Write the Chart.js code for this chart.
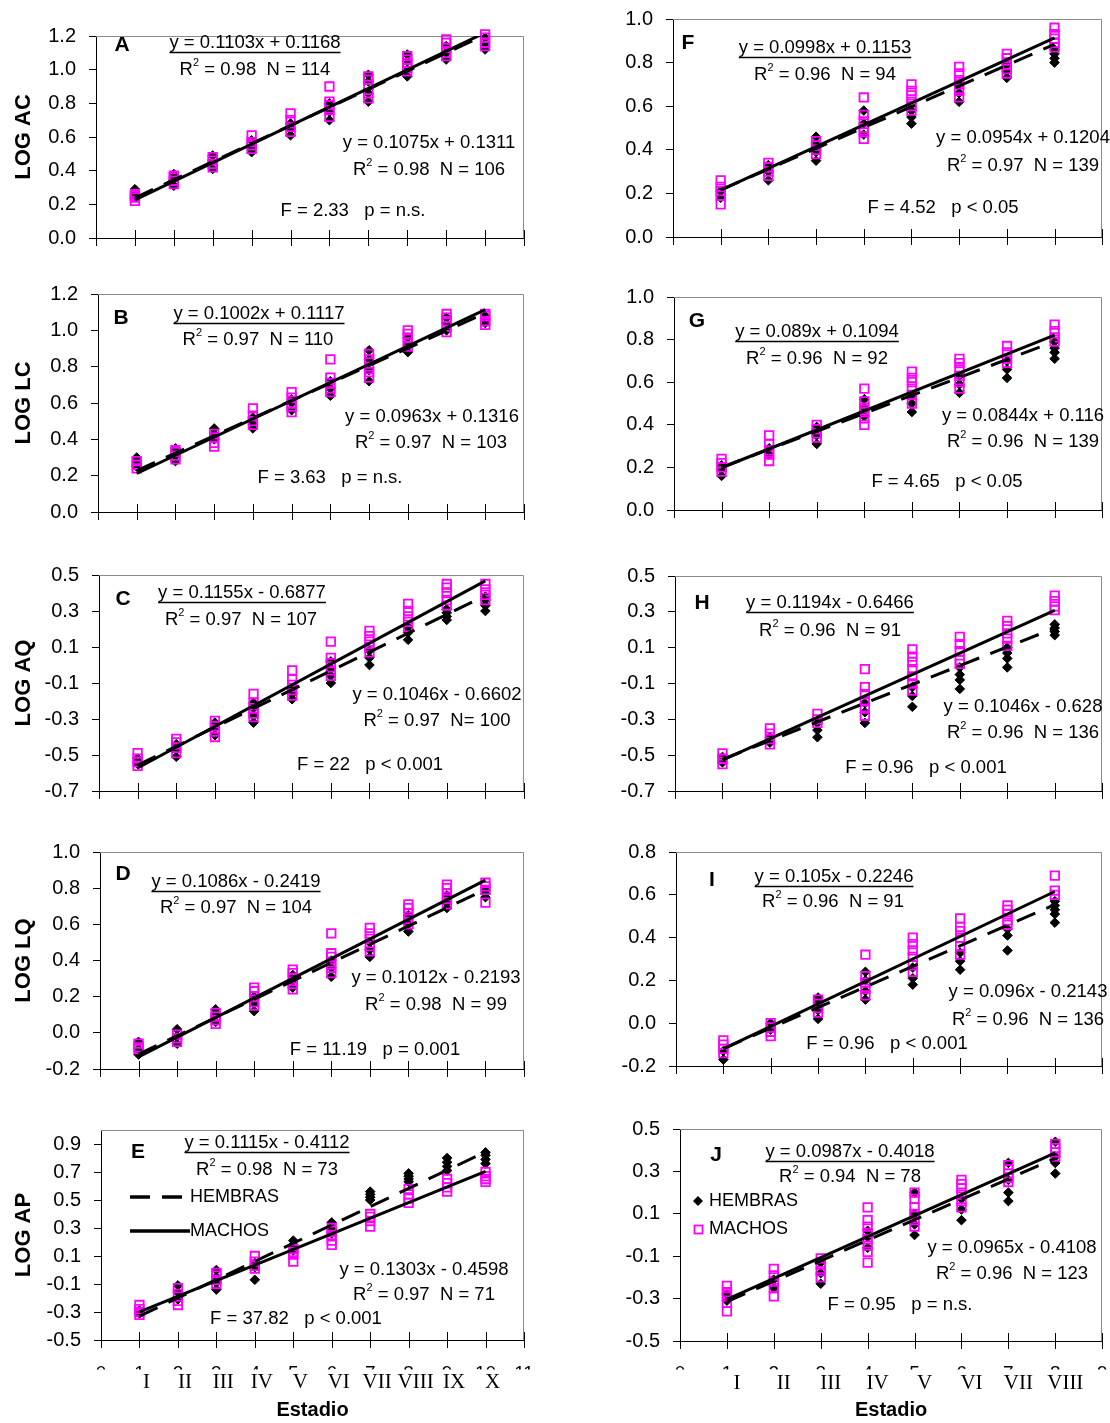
<!DOCTYPE html>
<html>
<head>
<meta charset="utf-8">
<script src="https://cdn.jsdelivr.net/npm/chart.js@4.4.0/dist/chart.umd.min.js"></script>
<style>
  body { margin: 0; background: #fff; }
  #wrap { position: relative; width: 1110px; height: 1423px; overflow: hidden; background: #fff; }
  #wrap canvas { position: absolute; }
</style>
</head>
<body>
<div id="wrap"></div>
<script>
const estadiosIzq = ['I', 'II', 'III', 'IV', 'V', 'VI', 'VII', 'VIII', 'IX', 'X'];
const estadiosDer = ['I', 'II', 'III', 'IV', 'V', 'VI', 'VII', 'VIII'];

// y tick labels for each panel
const ticks0a12 = [0, 0.2, 0.4, 0.6, 0.8, 1.0, 1.2];
const ticks0a10 = [0, 0.2, 0.4, 0.6, 0.8, 1.0];
const ticksM07 = [-0.7, -0.5, -0.3, -0.1, 0.1, 0.3, 0.5];
const ticksM02a10 = [-0.2, 0, 0.2, 0.4, 0.6, 0.8, 1.0];
const ticksM05a09 = [-0.5, -0.3, -0.1, 0.1, 0.3, 0.5, 0.7, 0.9];
const ticksM02a08 = [-0.2, 0, 0.2, 0.4, 0.6, 0.8];
const ticksM05a05 = [-0.5, -0.3, -0.1, 0.1, 0.3, 0.5];

// values per stage (one inner list per estadio)
const acMachos = [[0.22, 0.24, 0.25, 0.26], [0.32, 0.34, 0.36, 0.37], [0.42, 0.44, 0.46, 0.48], [0.53, 0.55, 0.57, 0.61], [0.63, 0.66, 0.70, 0.74], [0.72, 0.76, 0.79, 0.81, 0.90], [0.83, 0.86, 0.91, 0.94, 0.96], [0.99, 1.01, 1.04, 1.06, 1.08], [1.08, 1.10, 1.13, 1.16, 1.18], [1.14, 1.16, 1.19, 1.21]];
const acHembras = [[0.25, 0.27, 0.29], [0.31, 0.35, 0.38], [0.41, 0.45, 0.49], [0.51, 0.54, 0.58], [0.61, 0.65, 0.68], [0.70, 0.75, 0.80], [0.81, 0.86, 0.93, 0.97], [0.96, 1.00, 1.05, 1.09], [1.06, 1.10, 1.14], [1.12, 1.15, 1.19]];

const lcMachos = [[0.24, 0.26, 0.28], [0.29, 0.31, 0.33, 0.34], [0.36, 0.38, 0.41, 0.43], [0.48, 0.50, 0.53, 0.57], [0.55, 0.58, 0.60, 0.63, 0.66], [0.66, 0.68, 0.71, 0.74, 0.84], [0.74, 0.77, 0.80, 0.84, 0.87], [0.91, 0.93, 0.96, 0.98, 1.00], [0.99, 1.02, 1.05, 1.07, 1.09], [1.03, 1.05, 1.08, 1.09]];
const lcHembras = [[0.25, 0.28, 0.30], [0.28, 0.31, 0.35], [0.40, 0.43, 0.46], [0.46, 0.49, 0.52], [0.56, 0.60, 0.62], [0.64, 0.68, 0.72], [0.72, 0.78, 0.84, 0.89], [0.88, 0.92, 0.96], [1.00, 1.04, 1.07], [1.04, 1.06, 1.08]];

const aqMachos = [[-0.56, -0.54, -0.52, -0.49], [-0.49, -0.46, -0.43, -0.41], [-0.40, -0.37, -0.34, -0.31], [-0.29, -0.27, -0.24, -0.21, -0.16], [-0.17, -0.14, -0.11, -0.08, -0.03], [-0.06, -0.03, 0.01, 0.04, 0.13], [0.07, 0.10, 0.13, 0.16, 0.19], [0.21, 0.24, 0.27, 0.30, 0.34], [0.33, 0.36, 0.40, 0.43, 0.45], [0.36, 0.39, 0.42, 0.45]];
const aqHembras = [[-0.55, -0.52], [-0.51, -0.47, -0.44], [-0.39, -0.35, -0.32], [-0.32, -0.28, -0.24, -0.21], [-0.19, -0.16, -0.13], [-0.10, -0.06, -0.02, 0.02], [0.00, 0.04, 0.08], [0.14, 0.18, 0.21], [0.25, 0.27, 0.29, 0.31], [0.30, 0.33, 0.36, 0.38]];

const lqMachos = [[-0.09, -0.08, -0.06], [-0.05, -0.03, -0.01], [0.05, 0.07, 0.09, 0.11], [0.15, 0.17, 0.20, 0.23, 0.25], [0.24, 0.27, 0.30, 0.33, 0.35], [0.33, 0.36, 0.39, 0.42, 0.44, 0.55], [0.45, 0.48, 0.52, 0.55, 0.58], [0.60, 0.63, 0.66, 0.69, 0.71], [0.71, 0.74, 0.77, 0.80, 0.82], [0.72, 0.79, 0.81, 0.83]];
const lqHembras = [[-0.12, -0.09, -0.05], [-0.06, -0.02, 0.02], [0.06, 0.10, 0.13], [0.12, 0.16, 0.20], [0.25, 0.29, 0.32], [0.31, 0.36, 0.40], [0.42, 0.46, 0.50], [0.56, 0.60, 0.65], [0.69, 0.72, 0.76], [0.75, 0.77, 0.79]];

const apMachos = [[-0.32, -0.30, -0.28, -0.25], [-0.25, -0.22, -0.17, -0.13], [-0.10, -0.07, -0.04, -0.02], [0.01, 0.03, 0.06, 0.10], [0.06, 0.11, 0.13, 0.15], [0.18, 0.21, 0.25, 0.28, 0.30], [0.31, 0.35, 0.38, 0.40], [0.48, 0.51, 0.54, 0.58], [0.56, 0.59, 0.62, 0.65], [0.63, 0.65, 0.67, 0.70]];
const apHembras = [[-0.31, -0.29], [-0.21, -0.16, -0.11], [-0.14, -0.09, -0.05, 0.00], [-0.07, 0.02, 0.05], [0.14, 0.18, 0.21], [0.26, 0.30, 0.34], [0.50, 0.52, 0.54, 0.56], [0.63, 0.65, 0.67, 0.69], [0.71, 0.74, 0.77, 0.80], [0.76, 0.79, 0.82, 0.84]];

const fMachos = [[0.15, 0.19, 0.21, 0.23, 0.26], [0.28, 0.30, 0.32, 0.34], [0.38, 0.40, 0.42, 0.44], [0.45, 0.48, 0.50, 0.53, 0.56, 0.64], [0.58, 0.60, 0.62, 0.65, 0.67, 0.70], [0.64, 0.67, 0.70, 0.72, 0.75, 0.78], [0.75, 0.77, 0.79, 0.82, 0.84], [0.87, 0.89, 0.91, 0.93, 0.96]];
const fHembras = [[0.18, 0.21], [0.26, 0.30, 0.33], [0.35, 0.39, 0.43, 0.46], [0.47, 0.52, 0.58], [0.52, 0.55, 0.58], [0.62, 0.66, 0.70], [0.73, 0.76, 0.79], [0.80, 0.82, 0.84, 0.86]];

const gMachos = [[0.18, 0.20, 0.22, 0.24], [0.23, 0.26, 0.28, 0.31, 0.35], [0.34, 0.36, 0.38, 0.40], [0.40, 0.43, 0.46, 0.48, 0.51, 0.57], [0.50, 0.54, 0.57, 0.60, 0.62, 0.65], [0.57, 0.60, 0.63, 0.66, 0.69, 0.71], [0.69, 0.71, 0.74, 0.77], [0.79, 0.81, 0.84, 0.87]];
const gHembras = [[0.16, 0.19, 0.21], [0.26, 0.29], [0.31, 0.35, 0.39], [0.44, 0.48, 0.52], [0.46, 0.50, 0.54], [0.55, 0.59, 0.63], [0.62, 0.66, 0.70], [0.71, 0.74, 0.76, 0.79]];

const hMachos = [[-0.55, -0.52, -0.49], [-0.44, -0.41, -0.38, -0.35], [-0.32, -0.30, -0.27], [-0.28, -0.24, -0.20, -0.16, -0.12, -0.02], [-0.14, -0.10, -0.06, -0.02, 0.02, 0.05, 0.09], [0.01, 0.03, 0.08, 0.12, 0.16], [0.11, 0.15, 0.18, 0.22, 0.25], [0.31, 0.33, 0.36, 0.39]];
const hHembras = [[-0.54, -0.51], [-0.43, -0.40], [-0.40, -0.36, -0.32], [-0.32, -0.26, -0.21], [-0.23, -0.17, -0.12], [-0.13, -0.08, -0.05, -0.01], [-0.01, 0.04, 0.07, 0.10], [0.17, 0.19, 0.21, 0.23]];

const iMachos = [[-0.14, -0.12, -0.10, -0.08], [-0.06, -0.04, -0.02, 0.00], [0.05, 0.07, 0.09, 0.11], [0.13, 0.16, 0.19, 0.22, 0.32], [0.24, 0.27, 0.31, 0.34, 0.37, 0.40], [0.32, 0.36, 0.40, 0.43, 0.45, 0.49], [0.46, 0.48, 0.51, 0.53, 0.55], [0.60, 0.62, 0.69]];
const iHembras = [[-0.17, -0.13], [-0.03, 0.00], [0.02, 0.06, 0.10, 0.12], [0.11, 0.15, 0.20, 0.24], [0.18, 0.21, 0.26], [0.25, 0.29, 0.33], [0.34, 0.41, 0.44], [0.47, 0.51, 0.53, 0.55, 0.57]];

const jMachos = [[-0.36, -0.32, -0.29, -0.27, -0.24], [-0.29, -0.25, -0.22, -0.19, -0.16], [-0.20, -0.17, -0.14, -0.11], [-0.13, -0.08, -0.05, -0.02, 0.01, 0.04, 0.07, 0.13], [0.04, 0.07, 0.10, 0.13, 0.17, 0.20], [0.13, 0.16, 0.19, 0.22, 0.24, 0.26], [0.25, 0.27, 0.29, 0.31, 0.33], [0.37, 0.39, 0.41, 0.43]];
const jHembras = [[-0.31, -0.28], [-0.25, -0.21], [-0.23, -0.18, -0.13], [-0.06, -0.01, 0.02], [0.00, 0.05, 0.10, 0.20], [0.07, 0.12, 0.17], [0.16, 0.20, 0.26, 0.34], [0.29, 0.34, 0.37, 0.44]];

// regression fits [slope, intercept] as printed on each panel
const ajustesMachos = { A: [0.1103, 0.1168], B: [0.1002, 0.1117], C: [0.1155, -0.6877], D: [0.1086, -0.2419], E: [0.1115, -0.4112], F: [0.0998, 0.1153], G: [0.089, 0.1094], H: [0.1194, -0.6466], I: [0.105, -0.2246], J: [0.0987, -0.4018] };
const ajustesHembras = { A: [0.1075, 0.1311], B: [0.0963, 0.1316], C: [0.1046, -0.6602], D: [0.1012, -0.2193], E: [0.1303, -0.4598], F: [0.0954, 0.1204], G: [0.0844, 0.116], H: [0.1046, -0.628], I: [0.096, -0.2143], J: [0.0965, -0.4108] };

const FUENTE = '"Liberation Sans", Arial, sans-serif';
Chart.defaults.font.family = FUENTE;
Chart.defaults.color = '#000';

// panel layout (page pixels) and printed texts
const paneles = [
  { id: 'A', col: 0, titulo: 'LOG AC', m: acMachos, h: acHembras, yt: ticks0a12, left: 96, right: 524, top: 36, bottom: 238,
    letra: [122, 45], eq1: ['y = 0.1103x + 0.1168', 255, 43], r1: ['R^2 = 0.98  N = 114', 255, 70], eq2: ['y = 0.1075x + 0.1311', 429, 143], r2: ['R^2 = 0.98  N = 106', 429, 170], f: ['F = 2.33   p = n.s.', 353, 211] },
  { id: 'B', col: 0, titulo: 'LOG LC', m: lcMachos, h: lcHembras, yt: ticks0a12, left: 98, right: 524, top: 294, bottom: 512,
    letra: [121, 318], eq1: ['y = 0.1002x + 0.1117', 259, 314], r1: ['R^2 = 0.97  N = 110', 258, 340], eq2: ['y = 0.0963x + 0.1316', 432, 417], r2: ['R^2 = 0.97  N = 103', 431, 443], f: ['F = 3.63   p = n.s.', 330, 478] },
  { id: 'C', col: 0, titulo: 'LOG AQ', m: aqMachos, h: aqHembras, yt: ticksM07, left: 99, right: 524, top: 575, bottom: 791,
    letra: [123, 599], eq1: ['y = 0.1155x - 0.6877', 242, 593], r1: ['R^2 = 0.97  N = 107', 241, 620], eq2: ['y = 0.1046x - 0.6602', 437, 695], r2: ['R^2 = 0.97  N= 100', 437, 721], f: ['F = 22   p < 0.001', 370, 765] },
  { id: 'D', col: 0, titulo: 'LOG LQ', m: lqMachos, h: lqHembras, yt: ticksM02a10, left: 100, right: 524, top: 852, bottom: 1069,
    letra: [123, 874], eq1: ['y = 0.1086x - 0.2419', 236, 882], r1: ['R^2 = 0.97  N = 104', 236, 908], eq2: ['y = 0.1012x - 0.2193', 436, 978], r2: ['R^2 = 0.98  N = 99', 436, 1005], f: ['F = 11.19   p = 0.001', 375, 1050] },
  { id: 'E', col: 0, titulo: 'LOG AP', m: apMachos, h: apHembras, yt: ticksM05a09, ymax: 1.0, left: 101, right: 524, top: 1130, bottom: 1340, ultimo: true, leyenda: 'lineas',
    letra: [138, 1152], eq1: ['y = 0.1115x - 0.4112', 267, 1143], r1: ['R^2 = 0.98  N = 73', 267, 1170], eq2: ['y = 0.1303x - 0.4598', 424, 1270], r2: ['R^2 = 0.97  N = 71', 424, 1295], f: ['F = 37.82   p < 0.001', 296, 1319] },
  { id: 'F', col: 1, m: fMachos, h: fHembras, yt: ticks0a10, left: 673, right: 1109, top: 19, bottom: 237,
    letra: [688, 43], eq1: ['y = 0.0998x + 0.1153', 825, 48], r1: ['R^2 = 0.96  N = 94', 825, 75], eq2: ['y = 0.0954x + 0.1204', 1023, 138], r2: ['R^2 = 0.97  N = 139', 1023, 166], f: ['F = 4.52   p < 0.05', 943, 208] },
  { id: 'G', col: 1, m: gMachos, h: gHembras, yt: ticks0a10, left: 674, right: 1109, top: 297, bottom: 510,
    letra: [697, 321], eq1: ['y = 0.089x + 0.1094', 817, 332], r1: ['R^2 = 0.96  N = 92', 817, 359], eq2: ['y = 0.0844x + 0.116', 1023, 416], r2: ['R^2 = 0.96  N = 139', 1023, 442], f: ['F = 4.65   p < 0.05', 947, 482] },
  { id: 'H', col: 1, m: hMachos, h: hHembras, yt: ticksM07, left: 675, right: 1109, top: 576, bottom: 791,
    letra: [702, 603], eq1: ['y = 0.1194x - 0.6466', 830, 603], r1: ['R^2 = 0.96  N = 91', 830, 631], eq2: ['y = 0.1046x - 0.628', 1023, 707], r2: ['R^2 = 0.96  N = 136', 1023, 733], f: ['F = 0.96   p < 0.001', 926, 768] },
  { id: 'I', col: 1, m: iMachos, h: iHembras, yt: ticksM02a08, left: 676, right: 1109, top: 852, bottom: 1066,
    letra: [712, 880], eq1: ['y = 0.105x - 0.2246', 834, 877], r1: ['R^2 = 0.96  N = 91', 833, 902], eq2: ['y = 0.096x - 0.2143', 1028, 992], r2: ['R^2 = 0.96  N = 136', 1028, 1020], f: ['F = 0.96   p < 0.001', 887, 1044] },
  { id: 'J', col: 1, m: jMachos, h: jHembras, yt: ticksM05a05, left: 680, right: 1109, top: 1129, bottom: 1341, ultimo: true, leyenda: 'marcas',
    letra: [716, 1155], eq1: ['y = 0.0987x - 0.4018', 850, 1152], r1: ['R^2 = 0.94  N = 78', 850, 1177], eq2: ['y = 0.0965x - 0.4108', 1012, 1248], r2: ['R^2 = 0.96  N = 123', 1012, 1274], f: ['F = 0.95   p = n.s.', 900, 1305] }
];

const puntos = serie => serie.flatMap((vals, i) => vals.map(v => ({ x: i + 1, y: v })));
const recta = ([m, b], n) => [{ x: 1, y: m + b }, { x: n, y: m * n + b }];

// text with an optional superscript "2" written as ^2
function texto(ctx, str, x, y, size, align, subrayar) {
  const trozos = [];
  str.split('^2').forEach((t, i, arr) => {
    trozos.push({ t, sup: false });
    if (i < arr.length - 1) trozos.push({ t: '2', sup: true });
  });
  const supSize = Math.round(size * 0.6);
  let ancho = 0;
  trozos.forEach(tr => {
    ctx.font = (tr.sup ? supSize : size) + 'px ' + FUENTE;
    tr.w = ctx.measureText(tr.t).width;
    ancho += tr.w;
  });
  let cx = align === 'center' ? x - ancho / 2 : x;
  ctx.textAlign = 'left';
  ctx.textBaseline = 'middle';
  ctx.fillStyle = '#000';
  const x0 = cx;
  trozos.forEach(tr => {
    ctx.font = (tr.sup ? supSize : size) + 'px ' + FUENTE;
    ctx.fillText(tr.t, cx, tr.sup ? y - size * 0.36 : y);
    cx += tr.w;
  });
  if (subrayar) {
    ctx.strokeStyle = '#000';
    ctx.lineWidth = 1.5;
    ctx.beginPath();
    ctx.moveTo(x0, y + size * 0.52);
    ctx.lineTo(x0 + ancho, y + size * 0.52);
    ctx.stroke();
  }
}

const DASH = [20, 12];
const wrap = document.getElementById('wrap');

paneles.forEach(p => {
  const nEst = p.col === 0 ? 10 : 8;
  const romanos = p.col === 0 ? estadiosIzq : estadiosDer;
  const xMax = nEst + 1;
  const cLeft = p.col === 0 ? 0 : 560;
  const cRight = p.col === 0 ? 540 : 1110;
  const cTop = Math.max(0, p.top - 34);
  const cBottom = p.ultimo ? 1423 : p.bottom + 26;

  const canvas = document.createElement('canvas');
  canvas.width = cRight - cLeft;
  canvas.height = cBottom - cTop;
  canvas.style.left = cLeft + 'px';
  canvas.style.top = cTop + 'px';
  wrap.appendChild(canvas);

  const marco = {
    id: 'marco' + p.id,
    beforeDatasetsDraw(chart) {
      const { ctx, chartArea: a } = chart;
      ctx.save();
      ctx.strokeStyle = '#8a8a8a';
      ctx.lineWidth = 1;
      ctx.beginPath();
      ctx.moveTo(a.left, Math.round(a.top) + 0.5);
      ctx.lineTo(Math.round(a.right) - 0.5, Math.round(a.top) + 0.5);
      ctx.lineTo(Math.round(a.right) - 0.5, a.bottom);
      ctx.stroke();
      ctx.restore();
    },
    afterDraw(chart) {
      const { ctx, chartArea: a, scales: { x } } = chart;
      ctx.save();
      // x tick marks cross the axis line
      ctx.strokeStyle = '#000';
      ctx.lineWidth = 1;
      for (let v = 0; v <= xMax; v++) {
        const px = Math.round(x.getPixelForValue(v)) + 0.5;
        ctx.beginPath();
        ctx.moveTo(px, a.bottom - 8);
        ctx.lineTo(px, a.bottom + 8);
        ctx.stroke();
      }
      ctx.translate(-cLeft, -cTop);
      ctx.fillStyle = '#000';
      ctx.font = 'bold 21px ' + FUENTE;
      ctx.textAlign = 'center';
      ctx.textBaseline = 'middle';
      ctx.fillText(p.id, p.letra[0], p.letra[1]);
      const fs = 18.5;
      texto(ctx, p.eq1[0], p.eq1[1], p.eq1[2], fs, 'center', true);
      texto(ctx, p.r1[0], p.r1[1], p.r1[2], fs, 'center');
      texto(ctx, p.eq2[0], p.eq2[1], p.eq2[2], fs, 'center');
      texto(ctx, p.r2[0], p.r2[1], p.r2[2], fs, 'center');
      texto(ctx, p.f[0], p.f[1], p.f[2], fs, 'center');

      if (p.leyenda === 'lineas') {
        ctx.strokeStyle = '#000';
        ctx.lineWidth = 3.5;
        ctx.setLineDash(DASH);
        ctx.beginPath(); ctx.moveTo(130, 1197); ctx.lineTo(190, 1197); ctx.stroke();
        ctx.setLineDash([]);
        ctx.beginPath(); ctx.moveTo(130, 1231); ctx.lineTo(190, 1231); ctx.stroke();
        texto(ctx, 'HEMBRAS', 190, 1197, 18, 'left');
        texto(ctx, 'MACHOS', 190, 1231, 18, 'left');
      }
      if (p.leyenda === 'marcas') {
        ctx.fillStyle = '#000';
        ctx.beginPath();
        ctx.moveTo(698, 1196); ctx.lineTo(703, 1201); ctx.lineTo(698, 1206); ctx.lineTo(693, 1201);
        ctx.closePath(); ctx.fill();
        ctx.strokeStyle = '#ff00ff';
        ctx.lineWidth = 1.8;
        ctx.strokeRect(694.5, 1225.5, 8, 8);
        texto(ctx, 'HEMBRAS', 709, 1201, 18, 'left');
        texto(ctx, 'MACHOS', 709, 1229, 18, 'left');
      }
      if (p.ultimo) {
        // numeric stage axis, only the top sliver shows above the roman labels
        ctx.save();
        ctx.beginPath();
        ctx.rect(cLeft, 1364, cRight - cLeft, 5.5);
        ctx.clip();
        ctx.font = '19px ' + FUENTE;
        ctx.textAlign = 'center';
        ctx.textBaseline = 'alphabetic';
        for (let v = 0; v <= xMax; v++) {
          ctx.fillText(String(v), x.getPixelForValue(v) + cLeft, 1379);
        }
        ctx.restore();
      }
      ctx.restore();
    }
  };

  new Chart(canvas, {
    type: 'scatter',
    data: {
      datasets: [
        { label: 'MACHOS', data: recta(ajustesMachos[p.id], nEst), showLine: true, borderColor: '#000', borderWidth: 3, pointRadius: 0 },
        { label: 'HEMBRAS', data: recta(ajustesHembras[p.id], nEst), showLine: true, borderColor: '#000', borderWidth: 3, borderDash: DASH, pointRadius: 0 },
        { label: 'MACHOS', data: puntos(p.m), pointStyle: 'rect', pointRadius: 6, borderColor: '#ff00ff', backgroundColor: 'rgba(255,255,255,0)', borderWidth: 1.8, clip: false },
        { label: 'HEMBRAS', data: puntos(p.h), pointStyle: 'rectRot', pointRadius: 4.8, borderColor: '#000', backgroundColor: '#000', borderWidth: 1, clip: false }
      ]
    },
    options: {
      responsive: false,
      animation: false,
      devicePixelRatio: 1,
      events: [],
      layout: {
        padding: { left: 0, right: cRight - p.right, top: p.top - cTop, bottom: p.ultimo ? 0 : cBottom - p.bottom }
      },
      plugins: { legend: { display: false }, tooltip: { enabled: false } },
      scales: {
        x: {
          type: 'linear',
          min: 0,
          max: xMax,
          afterBuildTicks: ax => { ax.ticks = Array.from({ length: xMax + 1 }, (_, v) => ({ value: v })); },
          afterFit: s => {
            s.height = p.ultimo ? cBottom - p.bottom : 0;
            s.paddingLeft = 0;
            s.paddingRight = 0;
          },
          grid: { display: false, drawTicks: false },
          border: { display: true, color: '#000', width: 1 },
          ticks: {
            display: !!p.ultimo,
            autoSkip: false,
            maxRotation: 0,
            minRotation: 0,
            padding: 30,
            labelOffset: p.col === 0 ? 7 : 10,
            font: { family: '"Liberation Serif", "Times New Roman", serif', size: 21 },
            color: '#000',
            callback: v => romanos[v - 1] || ''
          },
          title: {
            display: !!p.ultimo,
            text: 'Estadio',
            font: { size: 20, weight: 'bold' },
            color: '#000',
            padding: { top: 0, bottom: 1 }
          }
        },
        y: {
          type: 'linear',
          min: p.yt[0],
          max: p.ymax !== undefined ? p.ymax : p.yt[p.yt.length - 1],
          afterBuildTicks: ax => { ax.ticks = p.yt.map(v => ({ value: v })); },
          afterFit: s => {
            s.width = p.left - cLeft;
            s.paddingTop = 0;
            s.paddingBottom = 0;
          },
          grid: { drawOnChartArea: false, drawTicks: true, tickLength: 7, color: '#000', lineWidth: 1 },
          border: { display: true, color: '#000', width: 1 },
          ticks: {
            padding: 13,
            font: { size: 20 },
            color: '#000',
            callback: v => v.toFixed(1)
          },
          title: {
            display: !!p.titulo,
            text: p.titulo || '',
            font: { size: 22, weight: 'bold' },
            color: '#000',
            padding: { top: 11, bottom: 0 }
          }
        }
      }
    },
    plugins: [marco]
  });
});
</script>
</body>
</html>
